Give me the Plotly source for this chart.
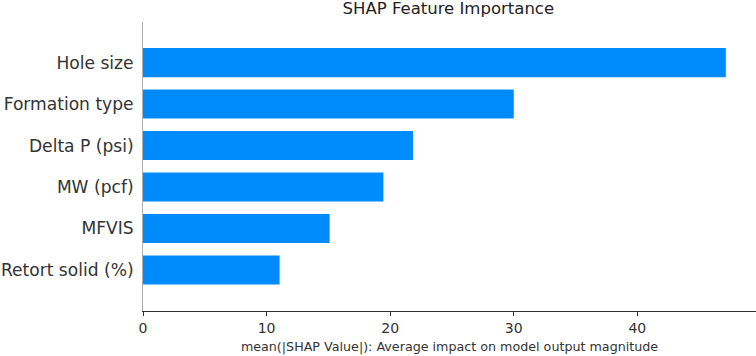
import plotly.graph_objects as go

features = ["Hole size", "Formation type", "Delta P (psi)", "MW (pcf)", "MFVIS", "Retort solid (%)"]
importance = [47.16, 30.0, 21.85, 19.45, 15.1, 11.05]
x_ticks = [0, 10, 20, 30, 40]

BLUE = "#008bfb"
TXT = "#333333"
FONT = "DejaVu Sans"

fig = go.Figure(
    go.Bar(
        x=importance,
        y=features,
        orientation="h",
        marker=dict(color=BLUE, line=dict(width=0)),
        width=0.7,
    )
)

fig.update_layout(
    width=756,
    height=356,
    margin=dict(l=143, r=0, t=22, b=45, autoexpand=False),
    paper_bgcolor="white",
    plot_bgcolor="white",
    showlegend=False,
    font=dict(family=FONT, color=TXT),
    title=dict(
        text="SHAP Feature Importance",
        x=0.593,
        xanchor="center",
        y=1 - 8.5 / 356,
        yanchor="middle",
        automargin=False,
        font=dict(family=FONT, size=16.5, color="#222222"),
    ),
)

fig.update_xaxes(
    range=[0, 49.6],
    tickvals=x_ticks,
    ticktext=[str(v) for v in x_ticks],
    showgrid=False,
    zeroline=False,
    showline=True,
    linecolor=TXT,
    linewidth=1,
    ticks="outside",
    ticklen=4,
    tickcolor=TXT,
    automargin=False,
    tickfont=dict(family=FONT, size=14, color=TXT),
    title=dict(
        text="mean(|SHAP Value|): Average impact on model output magnitude",
        font=dict(family=FONT, size=12.7, color=TXT),
        standoff=7,
    ),
)

fig.update_yaxes(
    type="category",
    range=[5.99, -0.98],
    showgrid=False,
    zeroline=False,
    showline=True,
    linecolor="#b0b0b0",
    linewidth=1,
    ticks="",
    automargin=False,
    ticklabelstandoff=5,
    tickfont=dict(family=FONT, size=17.1, color=TXT),
)

fig.write_html(
    "out.html",
    config={"displayModeBar": False},
    post_script="document.body.style.margin='0';document.body.style.overflow='hidden';",
)
